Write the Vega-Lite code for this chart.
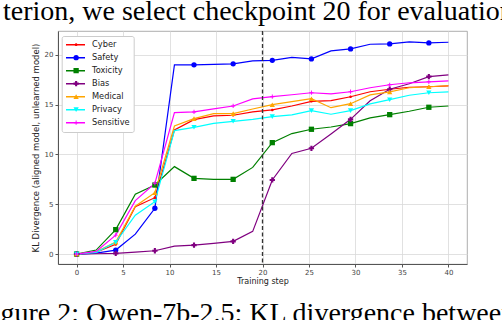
{
  "$schema": "https://vega.github.io/schema/vega-lite/v6.json",
  "width": 409,
  "height": 233,
  "autosize": "none",
  "padding": {"left": 58, "top": 31, "right": 35, "bottom": 56},
  "background": "white",
  "config": {
    "font": "DejaVu Sans",
    "view": {"stroke": "#999", "strokeWidth": 0.8}
  },
  "data": {
    "values": [
      {"i": 0, "step": 0, "Cyber": 0, "Safety": 0, "Toxicity": 0, "Bias": 0, "Medical": 0, "Privacy": 0, "Sensitive": 0},
      {"i": 1, "step": 2.105, "Cyber": 0.2, "Safety": 0.1, "Toxicity": 0.4, "Bias": 0.03, "Medical": 0.23, "Privacy": 0.17, "Sensitive": 0.27},
      {"i": 2, "step": 4.211, "Cyber": 0.97, "Safety": 0.4, "Toxicity": 2.45, "Bias": 0.07, "Medical": 1.2, "Privacy": 1.17, "Sensitive": 1.9},
      {"i": 3, "step": 6.316, "Cyber": 4.75, "Safety": 2.0, "Toxicity": 6.0, "Bias": 0.2, "Medical": 4.8, "Privacy": 3.9, "Sensitive": 5.36},
      {"i": 4, "step": 8.421, "Cyber": 5.66, "Safety": 4.6, "Toxicity": 6.93, "Bias": 0.33, "Medical": 6.16, "Privacy": 5.26, "Sensitive": 7.1},
      {"i": 5, "step": 10.526, "Cyber": 12.46, "Safety": 19.0, "Toxicity": 8.78, "Bias": 0.8, "Medical": 12.86, "Privacy": 12.4, "Sensitive": 14.2},
      {"i": 6, "step": 12.632, "Cyber": 13.5, "Safety": 19.0, "Toxicity": 7.6, "Bias": 0.9, "Medical": 13.6, "Privacy": 12.73, "Sensitive": 14.27},
      {"i": 7, "step": 14.737, "Cyber": 13.87, "Safety": 19.05, "Toxicity": 7.5, "Bias": 1.07, "Medical": 14.1, "Privacy": 13.13, "Sensitive": 14.57},
      {"i": 8, "step": 16.842, "Cyber": 13.94, "Safety": 19.1, "Toxicity": 7.5, "Bias": 1.27, "Medical": 14.1, "Privacy": 13.33, "Sensitive": 14.87},
      {"i": 9, "step": 18.947, "Cyber": 14.27, "Safety": 19.4, "Toxicity": 8.7, "Bias": 2.28, "Medical": 14.57, "Privacy": 13.53, "Sensitive": 15.58},
      {"i": 10, "step": 21.053, "Cyber": 14.47, "Safety": 19.45, "Toxicity": 11.19, "Bias": 7.44, "Medical": 15.0, "Privacy": 13.8, "Sensitive": 15.8},
      {"i": 11, "step": 23.158, "Cyber": 14.87, "Safety": 19.75, "Toxicity": 12.1, "Bias": 10.1, "Medical": 15.3, "Privacy": 13.97, "Sensitive": 16.0},
      {"i": 12, "step": 25.263, "Cyber": 15.34, "Safety": 19.6, "Toxicity": 12.53, "Bias": 10.62, "Medical": 15.6, "Privacy": 14.4, "Sensitive": 16.2},
      {"i": 13, "step": 27.368, "Cyber": 15.4, "Safety": 20.4, "Toxicity": 12.76, "Bias": 12.06, "Medical": 14.7, "Privacy": 14.04, "Sensitive": 16.08},
      {"i": 14, "step": 29.474, "Cyber": 15.8, "Safety": 20.6, "Toxicity": 13.1, "Bias": 13.53, "Medical": 15.1, "Privacy": 14.4, "Sensitive": 16.3},
      {"i": 15, "step": 31.579, "Cyber": 16.3, "Safety": 21.07, "Toxicity": 13.67, "Bias": 15.4, "Medical": 15.98, "Privacy": 15.08, "Sensitive": 16.7},
      {"i": 16, "step": 33.684, "Cyber": 16.55, "Safety": 21.1, "Toxicity": 14.0, "Bias": 16.55, "Medical": 16.28, "Privacy": 15.5, "Sensitive": 17.0},
      {"i": 17, "step": 35.789, "Cyber": 16.75, "Safety": 21.3, "Toxicity": 14.34, "Bias": 17.1, "Medical": 16.7, "Privacy": 15.95, "Sensitive": 17.2},
      {"i": 18, "step": 37.895, "Cyber": 16.8, "Safety": 21.2, "Toxicity": 14.74, "Bias": 17.82, "Medical": 16.8, "Privacy": 16.2, "Sensitive": 17.3},
      {"i": 19, "step": 40, "Cyber": 16.88, "Safety": 21.27, "Toxicity": 14.87, "Bias": 18.0, "Medical": 16.9, "Privacy": 16.28, "Sensitive": 17.4}
    ]
  },
  "layer": [
    {
      "transform": [{"fold": ["Cyber", "Safety", "Toxicity", "Bias", "Medical", "Privacy", "Sensitive"], "as": ["series", "kl"]}],
      "mark": {"type": "line", "strokeWidth": 1.2, "clip": true},
      "encoding": {
        "x": {
          "field": "step", "type": "quantitative",
          "scale": {"domain": [-2, 42], "nice": false, "zero": false},
          "axis": {
            "values": [0, 5, 10, 15, 20, 25, 30, 35, 40],
            "title": "Training step",
            "labelFontSize": 7, "labelColor": "#444", "labelPadding": 1,
            "tickSize": 3, "tickColor": "#555", "domainColor": "#555",
            "grid": true, "gridColor": "#d9d9d9", "gridWidth": 0.8,
            "titleFontSize": 8, "titleFontWeight": "normal", "titleColor": "#222", "titlePadding": 2
          }
        },
        "y": {
          "field": "kl", "type": "quantitative",
          "scale": {"domain": [-1, 22.4], "nice": false, "zero": false},
          "axis": {
            "values": [0, 5, 10, 15, 20],
            "title": "KL Divergence (aligned model, unlearned model)",
            "labelFontSize": 7, "labelColor": "#444", "labelPadding": 2,
            "tickSize": 3, "tickColor": "#555", "domainColor": "#555",
            "grid": true, "gridColor": "#d9d9d9", "gridWidth": 0.8,
            "titleFontSize": 8.5, "titleFontWeight": "normal", "titleColor": "#222", "titlePadding": 4
          }
        },
        "color": {
          "field": "series", "type": "nominal",
          "scale": {
            "domain": ["Cyber", "Safety", "Toxicity", "Bias", "Medical", "Privacy", "Sensitive"],
            "range": ["#ff0000", "#0000ff", "#008000", "#800080", "#ffa500", "#00ffff", "#ff00ff"]
          },
          "legend": {
            "orient": "none", "legendX": 3.7, "legendY": 5, "title": null,
            "symbolType": "stroke", "symbolSize": 361, "symbolStrokeWidth": 1.5,
            "clipHeight": 10.7, "rowPadding": 2,
            "labelFontSize": 8.25, "labelColor": "#222", "labelOffset": 6,
            "padding": 3.3, "fillColor": "white", "strokeColor": "#ccc", "cornerRadius": 2
          }
        }
      }
    },
    {
      "transform": [
        {"filter": "datum.i % 2 == 0"},
        {"fold": ["Cyber", "Safety", "Toxicity", "Bias", "Medical", "Privacy", "Sensitive"], "as": ["kind", "kl"]}
      ],
      "mark": {"type": "point", "filled": true, "size": 28, "opacity": 1, "clip": true},
      "encoding": {
        "x": {
          "field": "step", "type": "quantitative",
          "axis": {
            "orient": "top", "title": "terion, we select checkpoint 20 for evaluation",
            "labels": false, "ticks": false, "domain": false, "grid": false,
            "titleFont": "Liberation Serif", "titleFontSize": 28, "titleFontWeight": "normal", "titleColor": "#000",
            "titleAnchor": "start", "titleAlign": "left", "titleBaseline": "alphabetic",
            "titleX": -55.5, "titleY": -11.5
          }
        },
        "y": {"field": "kl", "type": "quantitative"},
        "color": {
          "field": "kind", "type": "nominal",
          "scale": {
            "domain": ["Cyber", "Safety", "Toxicity", "Bias", "Medical", "Privacy", "Sensitive"],
            "range": ["#ff0000", "#0000ff", "#008000", "#800080", "#ffa500", "#00ffff", "#ff00ff"]
          },
          "legend": {
            "orient": "none", "legendX": 3.7, "legendY": 5, "title": null,
            "symbolSize": 28, "symbolStrokeWidth": 0, "clipHeight": 10.7, "rowPadding": 2,
            "labelFontSize": 8.25, "labelExpr": "''", "labelOffset": 6,
            "symbolOffset": 7, "padding": 3.3
          }
        },
        "shape": {
          "field": "kind", "type": "nominal",
          "scale": {
            "domain": ["Cyber", "Safety", "Toxicity", "Bias", "Medical", "Privacy", "Sensitive"],
            "range": [
              "M0.5,0A0.5,0.5,0,1,1,-0.5,0A0.5,0.5,0,1,1,0.5,0Z",
              "circle", "square", "cross", "triangle-up", "triangle-down",
              "M-0.8,-0.18H-0.18V-0.8H0.18V-0.18H0.8V0.18H0.18V0.8H-0.18V0.18H-0.8Z"
            ]
          },
          "legend": {
            "orient": "none", "legendX": 3.7, "legendY": 5, "title": null,
            "symbolSize": 28, "symbolStrokeWidth": 0, "clipHeight": 10.7, "rowPadding": 2,
            "labelFontSize": 8.25, "labelExpr": "''", "labelOffset": 6,
            "symbolOffset": 7, "padding": 3.3
          }
        }
      }
    },
    {
      "data": {"values": [{"checkpoint": 20}]},
      "mark": {"type": "rule", "color": "#333", "strokeWidth": 1.3, "strokeDash": [4, 2.5]},
      "encoding": {
        "x": {
          "field": "checkpoint", "type": "quantitative",
          "axis": {
            "orient": "bottom", "title": "gure 2: Qwen-7b-2.5: KL divergence between",
            "labels": false, "ticks": false, "domain": false, "grid": false,
            "titleFont": "Liberation Serif", "titleFontSize": 28, "titleFontWeight": "normal", "titleColor": "#000",
            "titleAnchor": "start", "titleAlign": "left", "titleBaseline": "alphabetic",
            "titleX": -58, "titleY": 57.5
          }
        }
      }
    }
  ],
  "resolve": {"axis": {"x": "independent"}, "scale": {"color": "independent", "shape": "independent"}}
}
